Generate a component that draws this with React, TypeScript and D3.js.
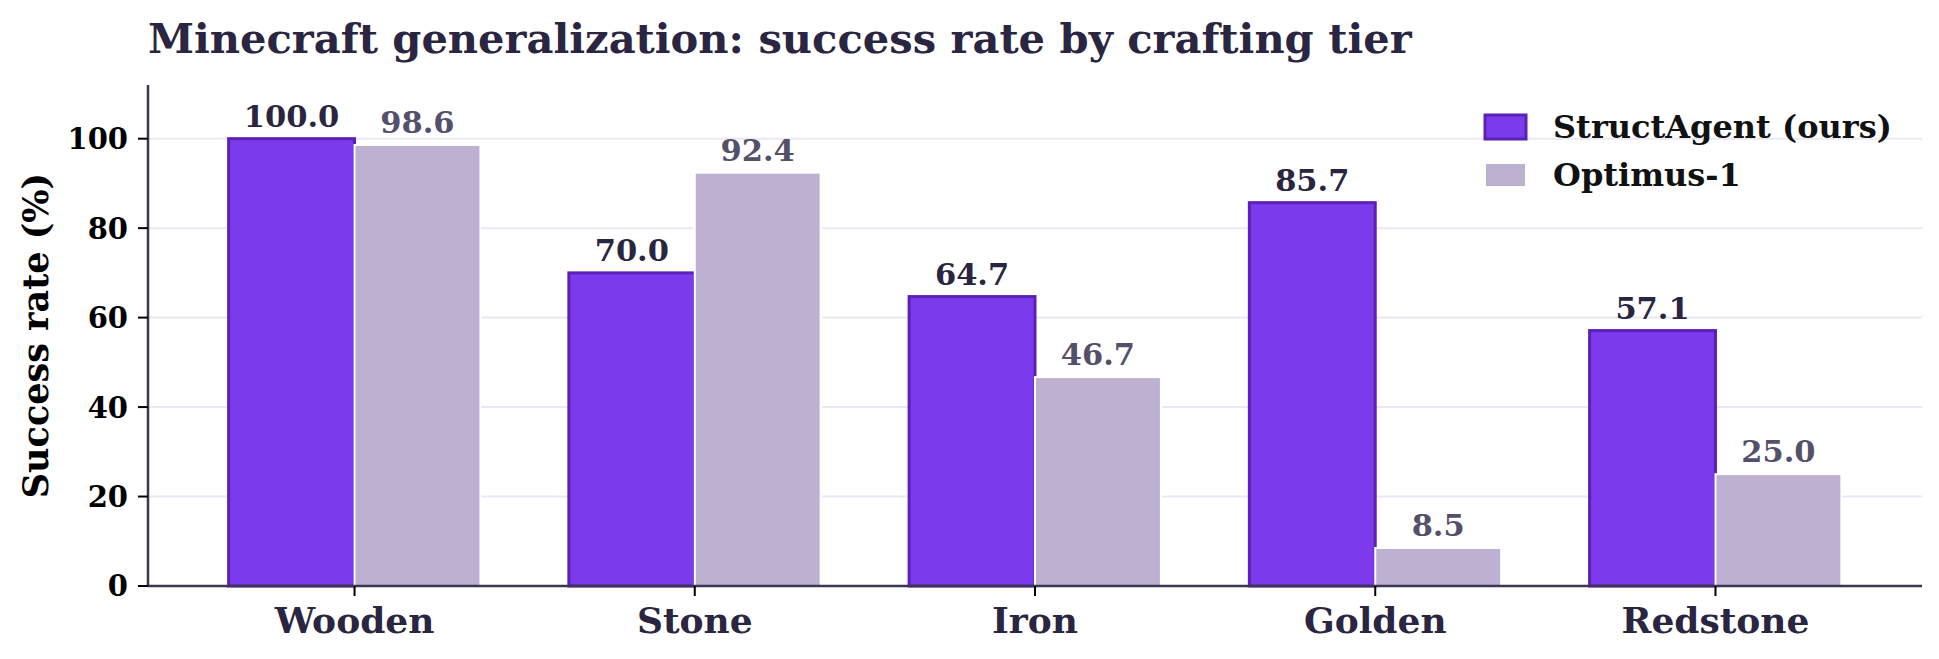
import { useEffect, useRef } from "react";
import * as d3 from "d3";

const tiers = ["Wooden", "Stone", "Iron", "Golden", "Redstone"];
const structAgent = [100.0, 70.0, 64.7, 85.7, 57.1];
const optimus = [98.6, 92.4, 46.7, 8.5, 25.0];
const yTicks = [0, 20, 40, 60, 80, 100];
const seriesNames = ["StructAgent (ours)", "Optimus-1"];

const W = 1939;
const H = 659;
const FONT = "'DejaVu Serif', serif";

const App = () => {
  const svgRef = useRef<SVGSVGElement | null>(null);

  useEffect(() => {
    const svg = d3.select(svgRef.current);
    svg.selectAll("*").remove();

    const left = 148;
    const right = 1922;
    const top = 85;
    const bottom = 586;
    const barW = 0.37;

    // matplotlib-like linear x with 5% margins
    const span = tiers.length - 1 + 2 * barW;
    const x = d3
      .scaleLinear()
      .domain([-barW - span * 0.05, tiers.length - 1 + barW + span * 0.05])
      .range([left, right]);
    const y = d3.scaleLinear().domain([0, 112]).range([bottom, top]);
    const unit = x(1) - x(0);

    // grid
    svg
      .append("g")
      .selectAll("line")
      .data(yTicks.slice(1))
      .join("line")
      .attr("x1", left)
      .attr("x2", right)
      .attr("y1", (d) => y(d))
      .attr("y2", (d) => y(d))
      .attr("stroke", "#ebe8f5")
      .attr("stroke-width", 2);

    // bars
    const g = svg.append("g");
    g.selectAll(".a")
      .data(structAgent)
      .join("rect")
      .attr("x", (_, i) => x(i) - barW * unit)
      .attr("y", (d) => y(d))
      .attr("width", barW * unit)
      .attr("height", (d) => bottom - y(d))
      .attr("fill", "#7c3aed")
      .attr("stroke", "#5b21b6")
      .attr("stroke-width", 3);

    g.selectAll(".b")
      .data(optimus)
      .join("rect")
      .attr("x", (_, i) => x(i))
      .attr("y", (d) => y(d))
      .attr("width", barW * unit)
      .attr("height", (d) => bottom - y(d))
      .attr("fill", "#bdb0d0")
      .attr("stroke", "#ffffff")
      .attr("stroke-width", 2);

    // value labels
    g.selectAll(".la")
      .data(structAgent)
      .join("text")
      .attr("x", (_, i) => x(i) - (barW * unit) / 2)
      .attr("y", (d) => y(d) - 12)
      .attr("text-anchor", "middle")
      .attr("font-family", FONT)
      .attr("font-weight", "bold")
      .attr("font-size", 30.5)
      .attr("fill", "#2a2540")
      .text((d) => d.toFixed(1));

    g.selectAll(".lb")
      .data(optimus)
      .join("text")
      .attr("x", (_, i) => x(i) + (barW * unit) / 2)
      .attr("y", (d) => y(d) - 12)
      .attr("text-anchor", "middle")
      .attr("font-family", FONT)
      .attr("font-weight", "bold")
      .attr("font-size", 30.5)
      .attr("fill", "#55506a")
      .text((d) => d.toFixed(1));

    // axes
    svg
      .append("line")
      .attr("x1", left)
      .attr("x2", left)
      .attr("y1", top)
      .attr("y2", bottom)
      .attr("stroke", "#3d3653")
      .attr("stroke-width", 2.5);
    svg
      .append("line")
      .attr("x1", left)
      .attr("x2", right)
      .attr("y1", bottom)
      .attr("y2", bottom)
      .attr("stroke", "#3d3653")
      .attr("stroke-width", 2.5);

    const yt = svg.append("g");
    yt.selectAll("line")
      .data(yTicks)
      .join("line")
      .attr("x1", left - 10)
      .attr("x2", left)
      .attr("y1", (d) => y(d))
      .attr("y2", (d) => y(d))
      .attr("stroke", "#000")
      .attr("stroke-width", 2);
    yt.selectAll("text")
      .data(yTicks)
      .join("text")
      .attr("x", left - 20)
      .attr("y", (d) => y(d))
      .attr("dy", "0.36em")
      .attr("text-anchor", "end")
      .attr("font-family", FONT)
      .attr("font-weight", "bold")
      .attr("font-size", 29)
      .attr("fill", "#000")
      .text((d) => d);

    const xt = svg.append("g");
    xt.selectAll("line")
      .data(tiers)
      .join("line")
      .attr("x1", (_, i) => x(i))
      .attr("x2", (_, i) => x(i))
      .attr("y1", bottom)
      .attr("y2", bottom + 10)
      .attr("stroke", "#000")
      .attr("stroke-width", 2);
    xt.selectAll("text")
      .data(tiers)
      .join("text")
      .attr("x", (_, i) => x(i))
      .attr("y", bottom + 47)
      .attr("text-anchor", "middle")
      .attr("font-family", FONT)
      .attr("font-weight", "bold")
      .attr("font-size", 36)
      .attr("fill", "#2a2540")
      .text((d) => d);

    // y label
    svg
      .append("text")
      .attr("transform", `translate(48,${(top + bottom) / 2}) rotate(-90)`)
      .attr("text-anchor", "middle")
      .attr("font-family", FONT)
      .attr("font-weight", "bold")
      .attr("font-size", 35)
      .attr("fill", "#000")
      .text("Success rate (%)");

    // title
    svg
      .append("text")
      .attr("x", 148)
      .attr("y", 53)
      .attr("font-family", FONT)
      .attr("font-weight", "bold")
      .attr("font-size", 41.6)
      .attr("fill", "#2a2540")
      .text("Minecraft generalization: success rate by crafting tier");

    // legend
    const legend = svg.append("g").attr("transform", "translate(1485,115)");
    const swatch = [
      { fill: "#7c3aed", stroke: "#5b21b6", sw: 3 },
      { fill: "#bdb0d0", stroke: "#ffffff", sw: 2 },
    ];
    seriesNames.forEach((name, i) => {
      legend
        .append("rect")
        .attr("x", 0)
        .attr("y", i * 48)
        .attr("width", 41)
        .attr("height", 24)
        .attr("fill", swatch[i].fill)
        .attr("stroke", swatch[i].stroke)
        .attr("stroke-width", swatch[i].sw);
      legend
        .append("text")
        .attr("x", 68)
        .attr("y", i * 48 + 23)
        .attr("font-family", FONT)
        .attr("font-weight", "bold")
        .attr("font-size", 32)
        .attr("fill", "#111")
        .text(name);
    });
  }, []);

  return (
    <svg
      ref={svgRef}
      width={W}
      height={H}
      style={{ display: "block", position: "absolute", left: 0, top: 0 }}
    />
  );
};

export default App;
